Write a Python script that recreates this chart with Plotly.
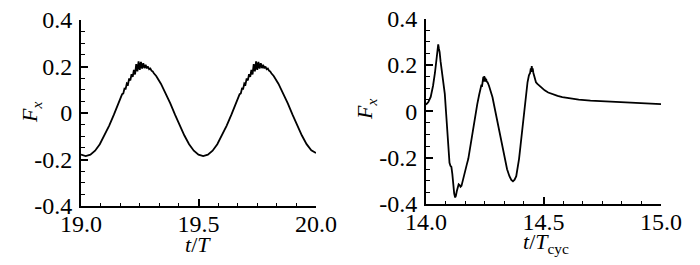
import numpy as np
import plotly.graph_objects as go

# ---- data: left panel (t/T vs Fx) ----
t_left = [19.00, 19.02, 19.04, 19.06, 19.08, 19.10, 19.12, 19.14, 19.16,
          19.170, 19.175, 19.180, 19.185, 19.190, 19.195, 19.200, 19.205, 19.210, 19.215,
          19.220, 19.225, 19.230, 19.235, 19.240, 19.245, 19.250, 19.255, 19.260, 19.265,
          19.270, 19.275, 19.280, 19.285, 19.290, 19.295, 19.300, 19.305, 19.310,
          19.32, 19.34, 19.36, 19.38, 19.40, 19.42, 19.44, 19.46, 19.48, 19.50,
          19.52, 19.54, 19.56, 19.58, 19.60, 19.62, 19.64, 19.66,
          19.670, 19.675, 19.680, 19.685, 19.690, 19.695, 19.700, 19.705, 19.710, 19.715,
          19.720, 19.725, 19.730, 19.735, 19.740, 19.745, 19.750, 19.755, 19.760, 19.765,
          19.770, 19.775, 19.780, 19.785, 19.790, 19.795, 19.800, 19.805, 19.810,
          19.82, 19.84, 19.86, 19.88, 19.90, 19.92, 19.94, 19.96, 19.98, 20.00]
fx_left = [-0.179, -0.185, -0.179, -0.162, -0.134, -0.097, -0.054, -0.007, 0.041,
           0.064, 0.081, 0.084, 0.105, 0.104, 0.127, 0.123, 0.149, 0.140, 0.167,
           0.155, 0.185, 0.166, 0.210, 0.179, 0.222, 0.185, 0.220, 0.191, 0.214,
           0.193, 0.207, 0.192, 0.200, 0.188, 0.191, 0.182, 0.179, 0.171,
           0.159, 0.126, 0.086, 0.041, -0.007, -0.054, -0.097, -0.134, -0.162, -0.179,
           -0.185, -0.179, -0.162, -0.134, -0.097, -0.054, -0.007, 0.041,
           0.064, 0.081, 0.084, 0.105, 0.104, 0.127, 0.123, 0.149, 0.140, 0.167,
           0.155, 0.185, 0.166, 0.210, 0.179, 0.222, 0.185, 0.220, 0.191, 0.214,
           0.193, 0.207, 0.192, 0.200, 0.188, 0.191, 0.182, 0.179, 0.171,
           0.159, 0.126, 0.086, 0.041, -0.007, -0.054, -0.097, -0.134, -0.160, -0.172]

# ---- data: right panel (t/Tcyc vs Fx) ----
t_right = [14.000, 14.010, 14.020, 14.030, 14.038, 14.044, 14.049, 14.052, 14.055, 14.058,
           14.062, 14.068, 14.074, 14.080, 14.085, 14.090, 14.095, 14.100, 14.104, 14.108,
           14.112, 14.116, 14.120, 14.124, 14.127, 14.131, 14.135, 14.139, 14.143, 14.147,
           14.151, 14.156, 14.162, 14.168, 14.174, 14.180, 14.187, 14.194, 14.202, 14.210,
           14.218, 14.226, 14.232, 14.236, 14.238, 14.240, 14.242, 14.244, 14.246, 14.248,
           14.250, 14.252, 14.254, 14.256, 14.258, 14.262, 14.268, 14.275, 14.283, 14.290,
           14.298, 14.306, 14.315, 14.325, 14.335, 14.345, 14.355, 14.363, 14.370, 14.377,
           14.384, 14.390, 14.396, 14.402, 14.408, 14.414, 14.420, 14.426, 14.432, 14.438,
           14.443, 14.446, 14.448, 14.450, 14.452, 14.454, 14.457, 14.462, 14.468, 14.474,
           14.480, 14.488, 14.496, 14.505, 14.520, 14.540, 14.560, 14.580, 14.600, 14.650,
           14.700, 14.750, 14.800, 14.850, 14.900, 14.950, 15.000]
fx_right = [0.028, 0.040, 0.062, 0.110, 0.165, 0.220, 0.265, 0.288, 0.270, 0.255,
            0.215, 0.170, 0.140, 0.075, 0.000, -0.090, -0.160, -0.222, -0.235, -0.240,
            -0.270, -0.320, -0.355, -0.372, -0.365, -0.345, -0.325, -0.315, -0.318, -0.326,
            -0.322, -0.300, -0.270, -0.245, -0.228, -0.205, -0.160, -0.110, -0.060, -0.015,
            0.030, 0.070, 0.095, 0.115, 0.105, 0.130, 0.118, 0.148, 0.128, 0.152,
            0.130, 0.145, 0.128, 0.140, 0.128, 0.125, 0.110, 0.090, 0.060, 0.025,
            -0.015, -0.060, -0.105, -0.160, -0.210, -0.250, -0.280, -0.296, -0.302, -0.295,
            -0.280, -0.250, -0.205, -0.150, -0.090, -0.040, 0.020, 0.080, 0.125, 0.155,
            0.165, 0.185, 0.170, 0.195, 0.175, 0.185, 0.165, 0.140, 0.125, 0.118,
            0.112, 0.105, 0.097, 0.090, 0.081, 0.073, 0.066, 0.061, 0.057, 0.050,
            0.046, 0.043, 0.040, 0.038, 0.036, 0.034, 0.031]

y_tickvals = [-0.4, -0.2, 0, 0.2, 0.4]
y_ticktext = ["-0.4", "-0.2", "0", "0.2", "0.4"]
xl_tickvals = [19.0, 19.5, 20.0]
xl_ticktext = ["19.0", "19.5", "20.0"]
xr_tickvals = [14.0, 14.5, 15.0]
xr_ticktext = ["14.0", "14.5", "15.0"]

W, H = 700, 265
FONT = "Liberation Serif"

fig = go.Figure()
fig.add_trace(go.Scatter(x=t_left, y=fx_left, mode="lines",
                         line=dict(color="black", width=1.8), xaxis="x", yaxis="y",
                         showlegend=False, hoverinfo="skip"))
fig.add_trace(go.Scatter(x=t_right, y=fx_right, mode="lines",
                         line=dict(color="black", width=1.8), xaxis="x2", yaxis="y2",
                         showlegend=False, hoverinfo="skip"))

def xaxis_cfg(domain, rng, vals, text, anchor):
    return dict(domain=domain, range=rng, anchor=anchor, automargin=False,
                showgrid=False, zeroline=False,
                showline=True, linecolor="black", linewidth=2, mirror=False,
                tickmode="array", tickvals=vals, ticktext=text,
                ticks="inside", ticklen=7, tickwidth=1.5, tickcolor="black",
                ticklabelstandoff=-5,
                tickfont=dict(family=FONT, size=24, color="black"),
                minor=dict(tickvals=list(np.linspace(rng[0], rng[1], 13)), ticks="inside",
                           ticklen=3.5, tickwidth=1.2, tickcolor="black"))

def yaxis_cfg(domain, anchor):
    return dict(domain=domain, range=[-0.4, 0.4], anchor=anchor, automargin=False,
                showgrid=False, zeroline=False,
                showline=True, linecolor="black", linewidth=2, mirror=False,
                tickmode="array", tickvals=y_tickvals, ticktext=y_ticktext,
                ticks="inside", ticklen=7, tickwidth=1.5, tickcolor="black",
                ticklabelstandoff=2,
                tickfont=dict(family=FONT, size=24, color="black"),
                minor=dict(tickvals=list(np.linspace(-0.4, 0.4, 17)), ticks="inside",
                           ticklen=3.5, tickwidth=1.2, tickcolor="black"))

fig.update_layout(
    width=W, height=H, margin=dict(l=0, r=0, t=0, b=0),
    paper_bgcolor="white", plot_bgcolor="white",
    font=dict(family=FONT, color="black"),
    xaxis=xaxis_cfg([81 / W, 316 / W], [19.0, 20.0], xl_tickvals, xl_ticktext, "y"),
    yaxis=yaxis_cfg([(H - 206) / H, (H - 20) / H], "x"),
    xaxis2=xaxis_cfg([426 / W, 661 / W], [14.0, 15.0], xr_tickvals, xr_ticktext, "y2"),
    yaxis2=yaxis_cfg([(H - 204) / H, (H - 18.5) / H], "x2"),
)

ann = [
    dict(text="<i>t</i>/<i>T</i>", x=198 / W, y=(H - 244) / H),
    dict(text="<i>t</i>/<i>T</i><sub>cyc</sub>", x=546 / W, y=(H - 243) / H),
    dict(text="<i>F</i><sub><i>x</i></sub>", x=31 / W, y=(H - 112) / H, textangle=-90),
    dict(text="<i>F</i><sub><i>x</i></sub>", x=366 / W, y=(H - 110) / H, textangle=-90),
]
for a in ann:
    fig.add_annotation(xref="paper", yref="paper", showarrow=False,
                       xanchor="center", yanchor="middle",
                       font=dict(family=FONT, size=22, color="black"), **a)

fig.write_html("out.html", config={"displayModeBar": False},
               post_script="document.body.style.margin='0';")
